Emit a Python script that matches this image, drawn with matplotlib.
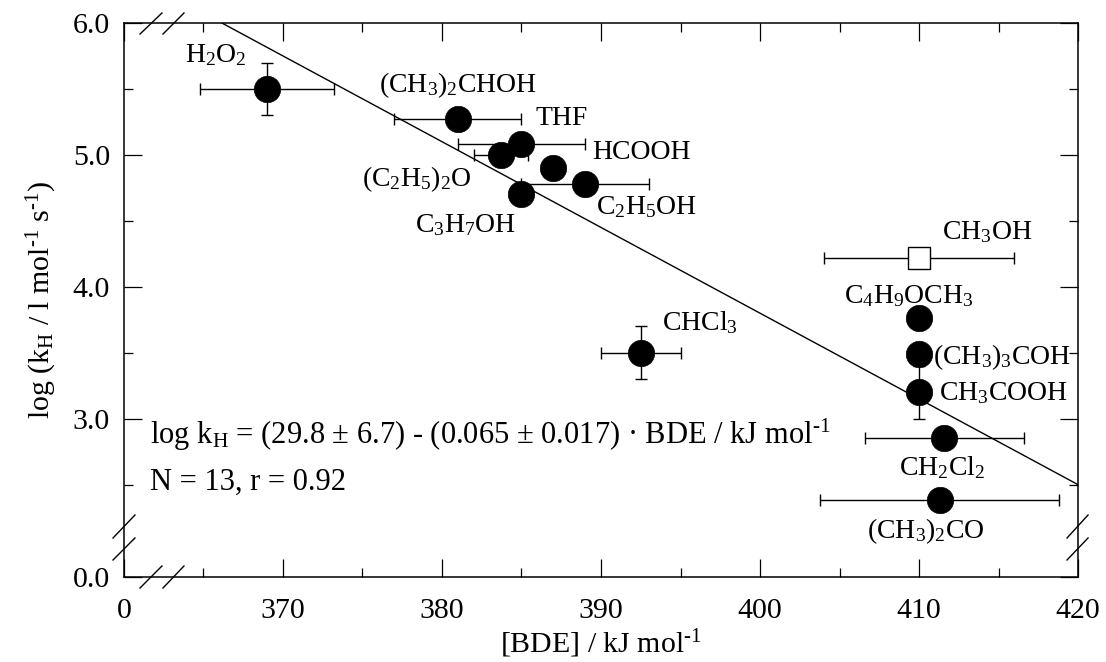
import numpy as np
import matplotlib
matplotlib.use("Agg")
import matplotlib.pyplot as plt

plt.rcParams['font.family'] = ['Liberation Serif', 'DejaVu Serif']
plt.rcParams['mathtext.fontset'] = 'custom'
plt.rcParams['mathtext.rm'] = 'Liberation Serif'
plt.rcParams['mathtext.it'] = 'Liberation Serif:italic'
plt.rcParams['mathtext.bf'] = 'Liberation Serif:bold'

# data
compounds = ['H$_2$O$_2$', '(CH$_3$)$_2$CHOH', 'THF', 'HCOOH', '(C$_2$H$_5$)$_2$O',
             'C$_2$H$_5$OH', 'C$_3$H$_7$OH', 'CHCl$_3$', 'CH$_3$OH', 'C$_4$H$_9$OCH$_3$',
             '(CH$_3$)$_3$COH', 'CH$_3$COOH', 'CH$_2$Cl$_2$', '(CH$_3$)$_2$CO']
bde = [369.0, 381.0, 385.0, 387.0, 383.7, 389.0, 385.0, 392.5, 410.0, 410.0, 410.0, 410.0, 411.6, 411.3]
logk = [5.50, 5.27, 5.08, 4.90, 5.00, 4.78, 4.70, 3.50, 4.22, 3.76, 3.49, 3.20, 2.85, 2.38]
bde_err = [4.2, 4.0, 4.0, 0.0, 1.7, 4.0, 0.0, 2.5, 6.0, 0.0, 0.0, 0.0, 5.0, 7.5]
logk_err = [0.2, 0.0, 0.0, 0.0, 0.0, 0.0, 0.0, 0.2, 0.0, 0.0, 0.0, 0.2, 0.0, 0.0]
open_symbol = 'CH$_3$OH'   # plotted as open square

# fit: log kH = a - b * BDE
fit_a = 29.8
fit_b = 0.065

x_ticks = [360, 370, 380, 390, 400, 410, 420]
x_ticklabels = ['0', '370', '380', '390', '400', '410', '420']
y_ticks = [1.8, 3.0, 4.0, 5.0, 6.0]
y_ticklabels = ['0.0', '3.0', '4.0', '5.0', '6.0']

# label placement: (dx, dy) in points from the point, horizontal alignment
label_offsets = [(-37, 19), (0, 19.5), (10, 14), (28, 6.5), (-21, -22.3),
                 (8, -21.6), (-4.3, -27.4), (15, 16), (16.6, 13.7), (-7.6, 10.8),
                 (10, -7.2), (14.4, -5.8), (-1.4, -26.6), (-9.7, -27.4)]
label_ha = ['center', 'center', 'left', 'left', 'right',
            'left', 'right', 'left', 'left', 'center',
            'left', 'left', 'center', 'center']

FS = 21.5      # tick labels, y label
FS_LAB = 20    # compound names
FS_EQ = 22     # fit text

SUP = '$^{\\text{-}1}$'

fig = plt.figure(figsize=(11.06, 6.62), dpi=100)
fig.subplots_adjust(left=0.1121, right=0.9747, top=0.9653, bottom=0.1284)
ax = fig.add_subplot(111)

xs = np.linspace(360, 420, 200)
ax.plot(xs, fit_a - fit_b * xs, color='black', lw=1.0, zorder=2)

for name, x, y, xe, ye in zip(compounds, bde, logk, bde_err, logk_err):
    if xe > 0 or ye > 0:
        ax.errorbar(x, y, xerr=xe if xe > 0 else None, yerr=ye if ye > 0 else None,
                    fmt='none', ecolor='black', elinewidth=1.0, capsize=4.5, capthick=1.0, zorder=3)
    if name == open_symbol:
        ax.plot(x, y, 's', ms=16, mfc='white', mec='black', mew=1.0, zorder=4)
    else:
        ax.plot(x, y, 'o', ms=19, mfc='black', mec='black', mew=0.5, zorder=4)

for name, x, y, off, ha in zip(compounds, bde, logk, label_offsets, label_ha):
    ax.annotate(name, (x, y), xytext=off, textcoords='offset points',
                ha=ha, va='baseline', fontsize=FS_LAB)

ax.text(0.027, 0.240, 'log k$_\\mathrm{H}$ = (29.8 ± 6.7) - (0.065 ± 0.017) · BDE / kJ mol' + SUP,
        transform=ax.transAxes, fontsize=FS_EQ, ha='left', va='baseline')
ax.text(0.027, 0.157, 'N = 13, r = 0.92', transform=ax.transAxes, fontsize=FS_EQ,
        ha='left', va='baseline')

ax.set_xlim(360, 420)
ax.set_ylim(1.8, 6.0)
ax.set_xticks(x_ticks)
ax.set_xticklabels(x_ticklabels)
ax.set_xticks([365, 375, 385, 395, 405, 415], minor=True)
ax.set_yticks(y_ticks)
ax.set_yticklabels(y_ticklabels)
ax.set_yticks([2.5, 3.5, 4.5, 5.5], minor=True)
ax.tick_params(which='both', direction='in', top=True, right=True, width=0.9, labelsize=FS)
ax.tick_params(which='major', length=13)
ax.tick_params(which='minor', length=6.5)
ax.tick_params(axis='x', which='major', pad=15)
ax.tick_params(axis='y', which='major', pad=10)
for sp in ax.spines.values():
    sp.set_linewidth(1.1)

ax.set_xlabel('[BDE] / kJ mol' + SUP, fontsize=FS, labelpad=3)
ax.set_ylabel('log (k$_\\mathrm{H}$ / l mol' + SUP + ' s' + SUP + ')', fontsize=FS, labelpad=10)

# axis break marks
brk = dict(transform=ax.transAxes, color='black', lw=1.0, clip_on=False)
for x0, x1 in [(0.0168, 0.0398), (0.0409, 0.0629)]:
    ax.plot([x0, x1], [-0.0199, 0.0199], **brk)
    ax.plot([x0, x1], [0.980, 1.018], **brk)
for y0, y1 in [(0.0704, 0.1119), (0.0307, 0.0704)]:
    ax.plot([-0.0115, 0.0115], [y0, y1], **brk)
    ax.plot([0.9885, 1.0105], [y0, y1], **brk)

fig.savefig('out.png', dpi=100)
